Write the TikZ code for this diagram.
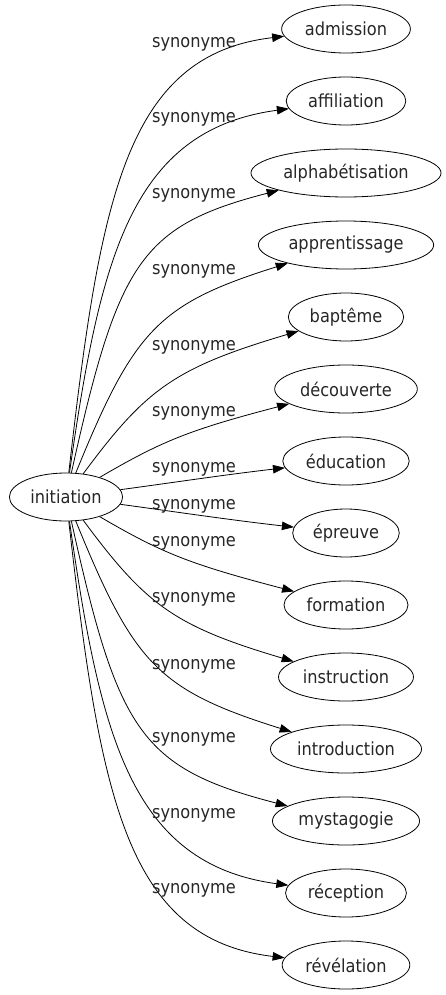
\documentclass[tikz,border=0pt]{standalone}
\usepackage{fontspec}
\setmainfont{DejaVu Sans}[FakeStretch=0.9]
\usetikzlibrary{arrows.meta,shapes.geometric}
\begin{document}
\begin{tikzpicture}[x=1pt,y=-1pt,
  word/.style={draw, ellipse, minimum height=48pt, inner xsep=4.5pt, inner ysep=0pt,
    text=black!85, font=\fontsize{18}{20}\selectfont, line width=0.8pt},
  rel/.style={text=black!85, font=\fontsize{18}{20}\selectfont, anchor=base, inner sep=0pt},
  link/.style={-{Triangle[length=12pt,width=8.5pt]}, line width=0.8pt}]
\useasboundingbox (0,0) rectangle (445,995);
\node[word] (init) at (66,497) {initiation};
\node[word] (n1) at (346,29) {admission};
\node[word] (n2) at (346,101) {affiliation};
\node[word] (n3) at (346,173) {alphabétisation};
\node[word] (n4) at (346,245) {apprentissage};
\node[word] (n5) at (346,317) {baptême};
\node[word] (n6) at (346,389) {découverte};
\node[word] (n7) at (346,461) {éducation};
\node[word] (n8) at (346,533) {épreuve};
\node[word] (n9) at (346,605) {formation};
\node[word] (n10) at (346,677) {instruction};
\node[word] (n11) at (346,749) {introduction};
\node[word] (n12) at (346,821) {mystagogie};
\node[word] (n13) at (346,893) {réception};
\node[word] (n14) at (346,965) {révélation};
\draw[link] (init) .. controls (100,200) and (125,55) .. (n1);
\draw[link] (init) .. controls (100,260) and (130,130) .. (n2);
\draw[link] (init) .. controls (118,263) and (140,226) .. (n3);
\draw[link] (init) .. controls (134,330) and (158,304) .. (n4);
\draw[link] (init) .. controls (146,389) and (174,368) .. (n5);
\draw[link] (init) .. controls (162,441) and (189,430) .. (n6);
\draw[link] (init) .. controls (170,483) and (230,474) .. (n7);
\draw[link] (init) .. controls (170,511) and (230,520) .. (n8);
\draw[link] (init) .. controls (162,553) and (189,564) .. (n9);
\draw[link] (init) .. controls (146,605) and (174,626) .. (n10);
\draw[link] (init) .. controls (134,664) and (158,690) .. (n11);
\draw[link] (init) .. controls (118,731) and (140,768) .. (n12);
\draw[link] (init) .. controls (100,734) and (130,864) .. (n13);
\draw[link] (init) .. controls (100,794) and (125,939) .. (n14);
\node[rel] (l1) at (194,48) {synonyme};
\node[rel] (l2) at (194,123) {synonyme};
\node[rel] (l3) at (194,198) {synonyme};
\node[rel] (l4) at (194,274) {synonyme};
\node[rel] (l5) at (194,350) {synonyme};
\node[rel] (l6) at (194,416) {synonyme};
\node[rel] (l7) at (194,472) {synonyme};
\node[rel] (l8) at (194,509) {synonyme};
\node[rel] (l9) at (194,546) {synonyme};
\node[rel] (l10) at (194,602) {synonyme};
\node[rel] (l11) at (194,669) {synonyme};
\node[rel] (l12) at (194,742) {synonyme};
\node[rel] (l13) at (194,818) {synonyme};
\node[rel] (l14) at (194,893) {synonyme};
\end{tikzpicture}
\end{document}
